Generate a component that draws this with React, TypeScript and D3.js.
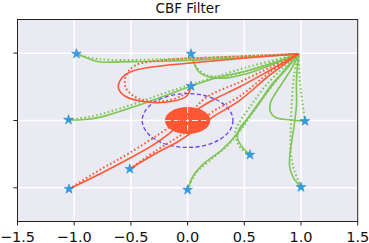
import React, { useEffect, useRef } from 'react';
import * as d3 from 'd3';

const width = 369;
const height = 243;
const margin = { left: 17.5, right: 11.3, top: 19.5, bottom: 21.5 };

const RED = '#ff5733';
const GREEN = '#7cc653';
const STAR = '#2f9fe8';

const xTicks = [-1.5, -1.0, -0.5, 0.0, 0.5, 1.0, 1.5];
const yTicks = [-1, 0, 1];

// obstacle + safety margin
const obstacleCenter = [0, 0];
const obstacleRadius = 0.2;
const safeRadius = 0.4;

// trajectories: [x, y] points, solid = filtered, dotted = nominal
const aSolid = [[0.03, 0.51], [-0.01, 0.36], [-0.2, 0.27], [-0.42, 0.29], [-0.55, 0.36], [-0.61, 0.48], [-0.58, 0.63], [-0.49, 0.73], [-0.33, 0.79], [0.0, 0.85], [0.46, 0.92], [0.98, 0.99]];
const aDotted = [[0.03, 0.51], [-0.04, 0.38], [-0.2, 0.29], [-0.38, 0.3], [-0.49, 0.38], [-0.55, 0.51], [-0.54, 0.68], [-0.46, 0.82], [-0.18, 0.9], [0.29, 0.94], [0.98, 0.99]];
const bSolid = [[-0.98, 0.99], [-0.86, 0.91], [-0.77, 0.87], [-0.6, 0.87], [-0.24, 0.88], [0.11, 0.9], [0.55, 0.94], [0.98, 0.99]];
const bDotted = [[-0.98, 0.99], [-0.86, 0.93], [-0.68, 0.9], [-0.24, 0.91], [0.29, 0.94], [0.98, 0.99]];
const cSolid = [[0.03, 0.99], [0.06, 0.84], [0.1, 0.72], [0.18, 0.65], [0.33, 0.63], [0.51, 0.69], [0.73, 0.82], [0.98, 0.99]];
const cDotted = [[0.03, 0.99], [0.07, 0.81], [0.16, 0.68], [0.33, 0.66], [0.55, 0.75], [0.77, 0.88], [0.98, 0.99]];
const dSolid = [[-1.05, 0.01], [-0.93, 0.01], [-0.77, 0.05], [-0.48, 0.2], [-0.18, 0.38], [-0.02, 0.48], [0.25, 0.63], [0.55, 0.75], [0.8, 0.88], [0.98, 0.99]];
const dDotted = [[-1.05, 0.01], [-0.85, 0.06], [-0.5, 0.23], [-0.2, 0.41], [0.1, 0.57], [0.5, 0.78], [0.98, 0.99]];
const eSolid = [[-1.046, -1.017], [-0.77, -0.79], [-0.51, -0.56], [-0.31, -0.37], [-0.16, -0.19], [-0.02, 0.01], [0.11, 0.19], [0.24, 0.32], [0.46, 0.5], [0.73, 0.75], [0.98, 0.99]];
const eDotted = [[-1.046, -1.017], [-0.77, -0.73], [-0.51, -0.48], [-0.16, -0.1], [0.02, 0.11], [0.17, 0.35], [0.46, 0.57], [0.73, 0.79], [0.98, 0.99]];
const fSolid = [[-0.51, -0.72], [-0.27, -0.48], [-0.09, -0.32], [0.07, -0.14], [0.22, 0.05], [0.46, 0.3], [0.73, 0.68], [0.98, 0.99]];
const fDotted = [[-0.51, -0.72], [-0.27, -0.44], [-0.07, -0.23], [0.11, -0.02], [0.22, 0.13], [0.46, 0.36], [0.73, 0.72], [0.98, 0.99]];
const gSolid = [[0.55, -0.51], [0.48, -0.39], [0.44, -0.26], [0.46, -0.11], [0.52, 0.01], [0.62, 0.23], [0.74, 0.53], [0.88, 0.78], [0.98, 0.99]];
const gDotted = [[0.55, -0.51], [0.49, -0.45], [0.44, -0.33], [0.42, -0.17], [0.46, -0.02], [0.55, 0.2], [0.68, 0.5], [0.84, 0.78], [0.98, 0.99]];
const hSolid = [[0.0, -1.03], [0.05, -0.82], [0.15, -0.63], [0.3, -0.44], [0.44, -0.19], [0.55, 0.08], [0.68, 0.38], [0.84, 0.72], [0.98, 0.99]];
const hDotted = [[0.0, -1.03], [0.07, -0.79], [0.2, -0.59], [0.36, -0.36], [0.48, -0.11], [0.6, 0.18], [0.73, 0.48], [0.86, 0.75], [0.98, 0.99]];
const iSolid = [[1.035, -0.01], [0.9, 0.01], [0.78, 0.04], [0.73, 0.13], [0.73, 0.26], [0.77, 0.39], [0.84, 0.57], [0.92, 0.78], [0.98, 0.99]];
const iDotted = [[1.035, -0.01], [1.01, 0.3], [0.99, 0.6], [0.98, 0.99]];
const jSolid = [[1.0, -0.99], [0.93, -0.84], [0.9, -0.69], [0.9, -0.54], [0.92, -0.29], [0.94, -0.07], [0.96, 0.23], [0.96, 0.6], [0.98, 0.99]];
const jDotted = [[1.0, -0.99], [0.94, -0.74], [0.91, -0.48], [0.91, -0.14], [0.92, 0.3], [0.94, 0.68], [0.98, 0.99]];

const agents = [
  { color: GREEN, solid: bSolid, dotted: bDotted },
  { color: GREEN, solid: cSolid, dotted: cDotted },
  { color: GREEN, solid: dSolid, dotted: dDotted },
  { color: GREEN, solid: gSolid, dotted: gDotted },
  { color: GREEN, solid: hSolid, dotted: hDotted },
  { color: GREEN, solid: iSolid, dotted: iDotted },
  { color: GREEN, solid: jSolid, dotted: jDotted },
  { color: RED, solid: aSolid, dotted: aDotted },
  { color: RED, solid: eSolid, dotted: eDotted },
  { color: RED, solid: fSolid, dotted: fDotted },
];

const x = d3.scaleLinear().domain([-1.5, 1.5]).range([margin.left, width - margin.right]);
const y = d3.scaleLinear().domain([-1.5, 1.5]).range([height - margin.bottom, margin.top]);

export default function App() {
  const ref = useRef(null);

  useEffect(() => {
    const svg = d3.select(ref.current);
    svg.selectAll('*').remove();
    const x0 = x.range()[0], x1 = x.range()[1];
    const y0 = y.range()[1], y1 = y.range()[0];

    svg.append('rect')
      .attr('x', x0).attr('y', y0)
      .attr('width', x1 - x0).attr('height', y1 - y0)
      .attr('fill', '#eaeaf2');

    // grid
    svg.selectAll('.gx').data(xTicks).enter().append('line')
      .attr('x1', d => x(d)).attr('x2', d => x(d))
      .attr('y1', y0).attr('y2', y1)
      .attr('stroke', '#fff').attr('stroke-width', 1.5);
    svg.selectAll('.gy').data(yTicks).enter().append('line')
      .attr('x1', x0).attr('x2', x1)
      .attr('y1', d => y(d)).attr('y2', d => y(d))
      .attr('stroke', '#fff').attr('stroke-width', 1.5);

    const cx = x(obstacleCenter[0]), cy = y(obstacleCenter[1]);
    svg.append('ellipse')
      .attr('cx', cx).attr('cy', cy)
      .attr('rx', x(obstacleRadius) - x(0)).attr('ry', y(0) - y(obstacleRadius))
      .attr('fill', RED);
    // grid shows through the obstacle as broken white lines
    svg.append('line')
      .attr('x1', x(-obstacleRadius)).attr('x2', x(obstacleRadius))
      .attr('y1', cy).attr('y2', cy)
      .attr('stroke', '#fff').attr('stroke-width', 1.2)
      .attr('stroke-dasharray', '6,3').attr('opacity', 0.85);
    svg.append('line')
      .attr('x1', cx).attr('x2', cx)
      .attr('y1', y(obstacleRadius)).attr('y2', y(-obstacleRadius))
      .attr('stroke', '#fff').attr('stroke-width', 1.2)
      .attr('stroke-dasharray', '6,3').attr('opacity', 0.85);

    svg.append('ellipse')
      .attr('cx', cx).attr('cy', cy)
      .attr('rx', x(safeRadius) - x(0)).attr('ry', y(0) - y(safeRadius))
      .attr('fill', 'none')
      .attr('stroke', '#6b3cf5').attr('stroke-width', 1.3)
      .attr('stroke-dasharray', '4,2.5');

    const line = d3.line<number[]>()
      .x(d => x(d[0]))
      .y(d => y(d[1]))
      .curve(d3.curveCatmullRom.alpha(0.5));

    agents.forEach(a => {
      svg.append('path')
        .attr('d', line(a.dotted))
        .attr('fill', 'none')
        .attr('stroke', a.color)
        .attr('stroke-width', 2)
        .attr('stroke-dasharray', '1.6,2.4');
      svg.append('path')
        .attr('d', line(a.solid))
        .attr('fill', 'none')
        .attr('stroke', a.color)
        .attr('stroke-width', 1.6);
    });

    // start markers
    const star = d3.symbol().type(d3.symbolStar).size(30);
    svg.selectAll('.start').data(agents).enter().append('path')
      .attr('d', star)
      .attr('transform', d => `translate(${x(d.solid[0][0])},${y(d.solid[0][1])})`)
      .attr('fill', STAR)
      .attr('stroke', '#1f7fc8')
      .attr('stroke-width', 0.5);

    // frame
    svg.append('rect')
      .attr('x', x0).attr('y', y0)
      .attr('width', x1 - x0).attr('height', y1 - y0)
      .attr('fill', 'none').attr('stroke', '#222').attr('stroke-width', 1);

    // ticks
    svg.selectAll('.tx').data(xTicks).enter().append('line')
      .attr('x1', d => x(d)).attr('x2', d => x(d))
      .attr('y1', y1).attr('y2', y1 + 4)
      .attr('stroke', '#222');
    svg.selectAll('.ty').data(yTicks).enter().append('line')
      .attr('x1', x0 - 4).attr('x2', x0)
      .attr('y1', d => y(d)).attr('y2', d => y(d))
      .attr('stroke', '#222');

    const fmt = d3.format('.1f');
    svg.selectAll('.lx').data(xTicks).enter().append('text')
      .attr('x', d => x(d)).attr('y', height - 1.5)
      .attr('text-anchor', 'middle')
      .attr('font-family', 'DejaVu Sans')
      .attr('font-size', 14.5)
      .attr('fill', '#111')
      .text(d => fmt(d));

    svg.append('text')
      .attr('x', (x0 + x1) / 2).attr('y', 12.7)
      .attr('text-anchor', 'middle')
      .attr('font-family', 'DejaVu Sans')
      .attr('font-size', 13.5)
      .attr('fill', '#111')
      .text('CBF Filter');
  }, []);

  return <svg width={width} height={height} ref={ref}
    style={{ position: 'absolute', left: 0, top: 0 }} />;
}
